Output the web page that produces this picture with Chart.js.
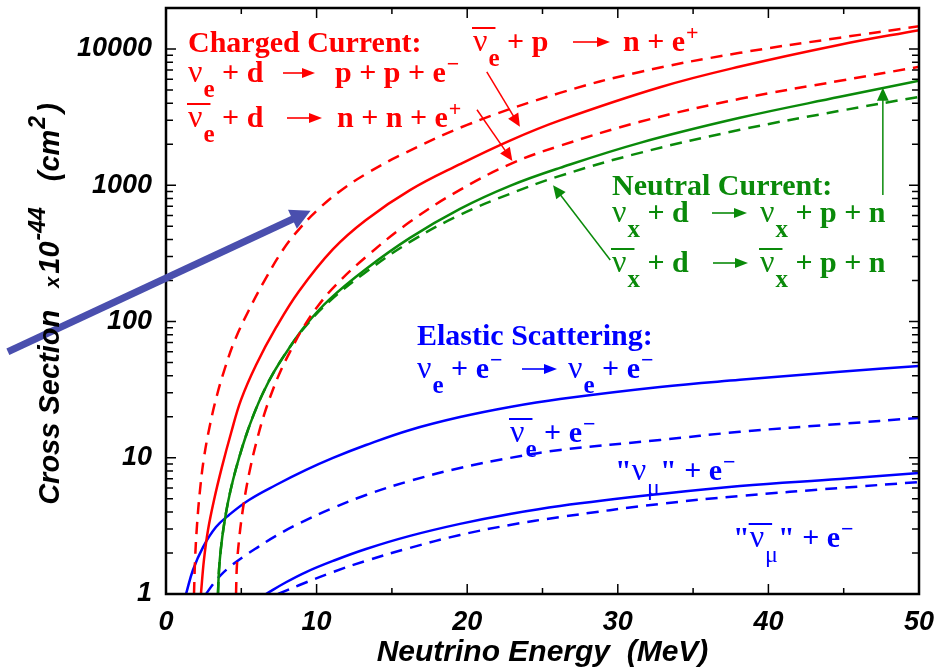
<!DOCTYPE html>
<html>
<head>
<meta charset="utf-8">
<script src="https://cdn.jsdelivr.net/npm/chart.js@4.4.1/dist/chart.umd.min.js"></script>
<style>
  body { margin: 0; background: #fff; }
  canvas { display: block; }
</style>
</head>
<body>
<canvas id="xsChart" width="947" height="669"></canvas>
<script>
// cross sections, units of 1e-44 cm^2, energies in MeV
const ivdE  = [1.86, 1.93, 2.06, 2.26, 2.52, 2.92, 3.39, 3.92, 4.58, 5.51, 6.57, 7.77, 8.9, 10.23, 11.55, 13.28, 15.54, 20, 26.16, 31.47, 38.11, 44.75, 50];
const ivdXS = [1, 1.78, 3.21, 5.8, 9.97, 17.4, 28.9, 45.6, 73.3, 121.6, 202, 336, 485, 685, 905, 1211, 1655, 2772, 4761, 6790, 9377, 12106, 14680];

const ccE  = [2.32, 2.52, 2.79, 3.19, 3.72, 4.32, 4.98, 5.98, 7.3, 8.83, 11.09, 13.28, 16.2, 19.52, 22.84, 26.16, 32.8, 38.11, 44.75, 50];
const ccXS = [1, 1.78, 2.95, 4.9, 8.6, 15.2, 26.6, 48, 90, 167, 340, 557, 921, 1428, 2130, 2995, 5242, 7436, 10756, 13763];

const ccBarE  = [4.65, 4.71, 4.85, 5.05, 5.31, 5.64, 6.04, 6.51, 7.04, 7.64, 8.3, 9.1, 10.09, 11.29, 13.28, 16.2, 19.52, 23.04, 26.16, 31.47, 38.11, 44.75, 50];
const ccBarXS = [1, 1.63, 2.49, 3.8, 5.8, 8.85, 13.5, 20.6, 30.4, 44.1, 61.9, 89.8, 130, 186, 298, 539, 925, 1460, 1947, 2921, 4310, 5843, 7400];

const ncE  = [3.45, 3.52, 3.65, 3.85, 4.12, 4.45, 4.85, 5.31, 5.84, 6.44, 7.17, 8.1, 9.23, 10.89, 13.28, 16.2, 19.52, 22.84, 26.16, 31.47, 38.11, 44.75, 50];
const ncXS = [1, 1.5, 2.18, 3.21, 4.74, 6.87, 9.97, 14.5, 21.0, 29.9, 42.7, 61.9, 92.8, 146.6, 243, 411, 671, 990, 1342, 2048, 3126, 4457, 5843];

const ncBarE  = [3.45, 3.52, 3.65, 3.85, 4.12, 4.45, 4.85, 5.31, 5.84, 6.44, 7.17, 8.1, 9.23, 10.89, 13.28, 16.2, 19.52, 22.84, 26.16, 31.47, 38.11, 44.75, 50];
const ncBarXS = [1, 1.5, 2.18, 3.21, 4.74, 6.87, 9.97, 14.5, 21.0, 29.9, 42.7, 61.9, 91.3, 141.7, 231, 384, 606, 865, 1172, 1729, 2552, 3518, 4457];

const esE  = [1.33, 1.79, 2.46, 3.32, 4.18, 5.51, 7.3, 9.3, 11.09, 13.28, 16.2, 19.52, 22.84, 26.16, 32.8, 38.11, 44.75, 50];
const esXS = [1, 1.5, 2.21, 3.1, 3.8, 4.9, 6.31, 8.14, 9.97, 12.4, 16.0, 19.9, 23.6, 27.0, 33.1, 37.3, 42.7, 47.2];

const esBarE  = [2.66, 3.12, 3.65, 4.32, 5.11, 6.11, 7.3, 8.9, 11.09, 13.28, 16.2, 19.52, 22.84, 26.16, 32.8, 38.11, 44.75, 50];
const esBarXS = [1, 1.18, 1.38, 1.61, 1.87, 2.21, 2.67, 3.32, 4.28, 5.33, 6.76, 8.42, 9.97, 11.4, 13.5, 15.5, 17.7, 19.6];

const esMuE  = [6.64, 7.97, 9.3, 11.09, 13.28, 16.2, 19.52, 22.84, 26.16, 32.8, 38.11, 44.75, 50];
const esMuXS = [1, 1.22, 1.45, 1.75, 2.14, 2.67, 3.27, 3.87, 4.43, 5.42, 6.21, 6.99, 7.73];

const esMuBarE  = [7.44, 8.83, 11.09, 13.28, 16.2, 19.52, 22.84, 26.16, 32.8, 38.11, 44.75, 50];
const esMuBarXS = [1, 1.16, 1.45, 1.75, 2.18, 2.71, 3.21, 3.67, 4.58, 5.24, 6.0, 6.64];

const xTicks = [0, 10, 20, 30, 40, 50];
const yTicks = [1, 10, 100, 1000, 10000];

const RED = '#ff0000', GREEN = '#0a8a0a', BLUE = '#0000ff';
const SERIF = '"Liberation Serif", "Times New Roman", serif';
const SANS = '"Liberation Sans", Arial, sans-serif';

function pts(xs, ys) {
  return xs.map((x, i) => ({ x: x, y: ys[i] }));
}

function series(label, xs, ys, color, dashed) {
  return {
    label: label,
    data: pts(xs, ys),
    borderColor: color,
    borderWidth: 2.5,
    borderDash: dashed ? [12, 8] : [],
    pointRadius: 0,
    tension: 0.4,
    fill: false
  };
}

// text labels on the plot (pixel layout)
const formulas = [
  { x: 188, y: 52, color: RED, parts: [{ t: 'Charged Current:' }] },
  { x: 188, y: 82, color: RED, parts: [{ nu: 'e' }, { t: ' + d' }, { arrow: [283, 315] }, { at: 335, t: 'p + p + e' }, { sup: '\u2212' }] },
  { x: 188, y: 127, color: RED, parts: [{ nu: 'e', bar: true }, { t: ' + d' }, { arrow: [287, 322] }, { at: 337, t: 'n + n + e' }, { sup: '+' }] },
  { x: 473, y: 51, color: RED, parts: [{ nu: 'e', bar: true }, { t: ' + p' }, { arrow: [573, 610] }, { at: 623, t: 'n + e' }, { sup: '+' }] },
  { x: 612, y: 195, color: GREEN, parts: [{ t: 'Neutral Current:' }] },
  { x: 612, y: 222, color: GREEN, parts: [{ nu: 'x' }, { t: ' + d' }, { arrow: [712, 747] }, { at: 760, nu: 'x' }, { t: ' + p + n' }] },
  { x: 612, y: 272, color: GREEN, parts: [{ nu: 'x', bar: true }, { t: ' + d' }, { arrow: [713, 748] }, { at: 760, nu: 'x', bar: true }, { t: ' + p + n' }] },
  { x: 417, y: 345, color: BLUE, parts: [{ t: 'Elastic Scattering:' }] },
  { x: 417, y: 378, color: BLUE, parts: [{ nu: 'e' }, { t: ' + e' }, { sup: '\u2212' }, { arrow: [522, 557] }, { at: 568, nu: 'e' }, { t: ' + e' }, { sup: '\u2212' }] },
  { x: 510, y: 442, color: BLUE, parts: [{ nu: 'e', bar: true }, { t: ' + e' }, { sup: '\u2212' }] },
  { x: 615, y: 480, color: BLUE, parts: [{ t: '"' }, { nu: '\u03bc' }, { t: '" + e' }, { sup: '\u2212' }] },
  { x: 733, y: 547, color: BLUE, parts: [{ t: '"' }, { nu: '\u03bc', bar: true }, { t: '" + e' }, { sup: '\u2212' }] }
];

// pointer arrows, in data coordinates [energy, cross section]
const pointers = [
  { from: [-10.5, 60], to: [9.6, 650], color: '#4a4fae', width: 7, head: 20 },
  { from: [21.3, 6800], to: [23.5, 2690], color: RED, width: 1.5, head: 13 },
  { from: [20.65, 3580], to: [23.0, 1510], color: RED, width: 1.5, head: 13 },
  { from: [47.6, 850], to: [47.6, 5200], color: GREEN, width: 1.5, head: 13 },
  { from: [29.5, 283], to: [25.7, 1000], color: GREEN, width: 1.5, head: 13 }
];

function arrowHead(ctx, x1, y1, x2, y2, len, half) {
  const a = Math.atan2(y2 - y1, x2 - x1);
  ctx.beginPath();
  ctx.moveTo(x2, y2);
  ctx.lineTo(x2 - len * Math.cos(a) + half * Math.sin(a), y2 - len * Math.sin(a) - half * Math.cos(a));
  ctx.lineTo(x2 - len * Math.cos(a) - half * Math.sin(a), y2 - len * Math.sin(a) + half * Math.cos(a));
  ctx.closePath();
  ctx.fill();
}

function drawArrow(ctx, x1, y1, x2, y2, width, head) {
  const a = Math.atan2(y2 - y1, x2 - x1);
  ctx.lineWidth = width;
  ctx.beginPath();
  ctx.moveTo(x1, y1);
  ctx.lineTo(x2 - head * 0.8 * Math.cos(a), y2 - head * 0.8 * Math.sin(a));
  ctx.stroke();
  arrowHead(ctx, x1, y1, x2, y2, head, head * 0.42 + width * 0.3);
}

function drawFormula(ctx, row) {
  const S = 30;
  let x = row.x;
  ctx.fillStyle = row.color;
  ctx.strokeStyle = row.color;
  ctx.textBaseline = 'alphabetic';
  ctx.textAlign = 'left';
  row.parts.forEach(p => {
    if (p.at !== undefined) x = p.at;
    if (p.arrow) {
      const y = row.y - 9;
      ctx.lineWidth = 1.6;
      ctx.beginPath();
      ctx.moveTo(p.arrow[0], y);
      ctx.lineTo(p.arrow[1] - 8, y);
      ctx.stroke();
      arrowHead(ctx, p.arrow[0], y, p.arrow[1], y, 13, 5);
      x = p.arrow[1];
      return;
    }
    if (p.nu) {
      ctx.font = '32px ' + SERIF;
      const w = ctx.measureText('\u03bd').width;
      ctx.fillText('\u03bd', x, row.y);
      if (p.bar) {
        ctx.lineWidth = 2;
        ctx.beginPath();
        ctx.moveTo(x - 1, row.y - 23);
        ctx.lineTo(x + w + 8, row.y - 23);
        ctx.stroke();
      }
      x += w + 1;
      ctx.font = 'bold 25px ' + SERIF;
      if (p.nu === '\u03bc') ctx.font = '24px ' + SERIF;
      ctx.fillText(p.nu, x, row.y + 15);
      x += ctx.measureText(p.nu).width;
      if (p.t) {
        ctx.font = 'bold ' + S + 'px ' + SERIF;
        ctx.fillText(p.t, x, row.y);
        x += ctx.measureText(p.t).width;
      }
      return;
    }
    if (p.sup) {
      ctx.font = 'bold 22px ' + SERIF;
      ctx.fillText(p.sup, x + 1, row.y - 11);
      x += ctx.measureText(p.sup).width + 1;
      return;
    }
    ctx.font = 'bold ' + S + 'px ' + SERIF;
    ctx.fillText(p.t, x, row.y);
    x += ctx.measureText(p.t).width;
  });
}

function drawYTitle(ctx) {
  const big = 'italic bold 29px ' + SANS;
  const small = 'italic bold 23px ' + SANS;
  const parts = [
    { t: 'Cross Section', f: big, dy: 0, gap: 22 },
    { t: 'x', f: 'italic bold 20px ' + SANS, dy: 0, gap: 3 },
    { t: '10', f: big, dy: 0, gap: 1 },
    { t: '-44', f: small, dy: -14, gap: 26 },
    { t: '(cm', f: big, dy: 0, gap: 1 },
    { t: '2', f: small, dy: -14, gap: 3 },
    { t: ')', f: big, dy: 0, gap: 0 }
  ];
  let total = 0;
  parts.forEach(p => { ctx.font = p.f; p.w = ctx.measureText(p.t).width; total += p.w + p.gap; });
  ctx.save();
  ctx.translate(59, 304);
  ctx.rotate(-Math.PI / 2);
  ctx.fillStyle = '#000';
  ctx.textBaseline = 'alphabetic';
  ctx.textAlign = 'left';
  let x = -total / 2;
  parts.forEach(p => { ctx.font = p.f; ctx.fillText(p.t, x, p.dy); x += p.w + p.gap; });
  ctx.restore();
}

const decorPlugin = {
  id: 'decor',
  afterDraw(chart) {
    const ctx = chart.ctx;
    const a = chart.chartArea;
    const xs = chart.scales.x, ys = chart.scales.y;
    ctx.save();
    // frame
    ctx.strokeStyle = '#000';
    ctx.lineWidth = 2.5;
    ctx.strokeRect(a.left, a.top, a.right - a.left, a.bottom - a.top);
    // x ticks, major and minor, bottom and top, pointing inward
    ctx.lineWidth = 1.5;
    for (let v = 0; v <= 50; v += 5) {
      const px = xs.getPixelForValue(v);
      const len = v % 10 === 0 ? 10 : 6;
      ctx.beginPath();
      ctx.moveTo(px, a.bottom); ctx.lineTo(px, a.bottom - len);
      ctx.moveTo(px, a.top); ctx.lineTo(px, a.top + len);
      ctx.stroke();
    }
    // y ticks on log scale
    for (let d = 1; d <= 10000; d *= 10) {
      for (let m = 1; m <= 9; m++) {
        const v = d * m;
        if (v > ys.max) break;
        const py = ys.getPixelForValue(v);
        const len = m === 1 ? 10 : 7;
        ctx.beginPath();
        ctx.moveTo(a.left, py); ctx.lineTo(a.left + len, py);
        ctx.moveTo(a.right, py); ctx.lineTo(a.right - len, py);
        ctx.stroke();
      }
    }
    // text on the plot
    formulas.forEach(row => drawFormula(ctx, row));
    // pointer arrows
    pointers.forEach(p => {
      ctx.strokeStyle = p.color;
      ctx.fillStyle = p.color;
      drawArrow(ctx,
        xs.getPixelForValue(p.from[0]), ys.getPixelForValue(p.from[1]),
        xs.getPixelForValue(p.to[0]), ys.getPixelForValue(p.to[1]),
        p.width, p.head);
    });
    // axis titles
    drawYTitle(ctx);
    ctx.fillStyle = '#000';
    ctx.font = 'italic bold 30px ' + SANS;
    ctx.textAlign = 'center';
    ctx.textBaseline = 'alphabetic';
    ctx.fillText('Neutrino Energy  (MeV)', (a.left + a.right) / 2, 661);
    ctx.restore();
  }
};

const ctx = document.getElementById('xsChart').getContext('2d');
const myChart = new Chart(ctx, {
  type: 'line',
  data: {
    datasets: [
      series('anti-nu_e + p -> n + e+', ivdE, ivdXS, RED, true),
      series('nu_e + d -> p + p + e-', ccE, ccXS, RED, false),
      series('anti-nu_e + d -> n + n + e+', ccBarE, ccBarXS, RED, true),
      series('nu_x + d -> nu_x + p + n', ncE, ncXS, GREEN, false),
      series('anti-nu_x + d -> anti-nu_x + p + n', ncBarE, ncBarXS, GREEN, true),
      series('nu_e + e-', esE, esXS, BLUE, false),
      series('anti-nu_e + e-', esBarE, esBarXS, BLUE, true),
      series('nu_mu + e-', esMuE, esMuXS, BLUE, false),
      series('anti-nu_mu + e-', esMuBarE, esMuBarXS, BLUE, true)
    ]
  },
  options: {
    responsive: false,
    animation: false,
    layout: { padding: { left: 0, right: 28, top: 8, bottom: 0 } },
    plugins: { legend: { display: false }, tooltip: { enabled: false } },
    scales: {
      x: {
        type: 'linear',
        min: 0,
        max: 50,
        afterBuildTicks: s => { s.ticks = xTicks.map(v => ({ value: v })); },
        afterFit: s => { s.height = 75; s.paddingLeft = 0; s.paddingRight = 0; },
        grid: { display: false, drawTicks: false },
        border: { display: false },
        ticks: {
          color: '#000',
          padding: 12,
          maxRotation: 0,
          font: { family: SANS, size: 27, style: 'italic', weight: 'bold' }
        }
      },
      y: {
        type: 'logarithmic',
        min: 1,
        max: 20000,
        afterBuildTicks: s => { s.ticks = yTicks.map(v => ({ value: v })); },
        afterFit: s => { s.width = 166; s.paddingTop = 0; s.paddingBottom = 0; },
        grid: { display: false, drawTicks: false },
        border: { display: false },
        ticks: {
          color: '#000',
          padding: 14,
          callback: v => String(v),
          font: { family: SANS, size: 27, style: 'italic', weight: 'bold' }
        }
      }
    }
  },
  plugins: [decorPlugin]
});
</script>
</body>
</html>
